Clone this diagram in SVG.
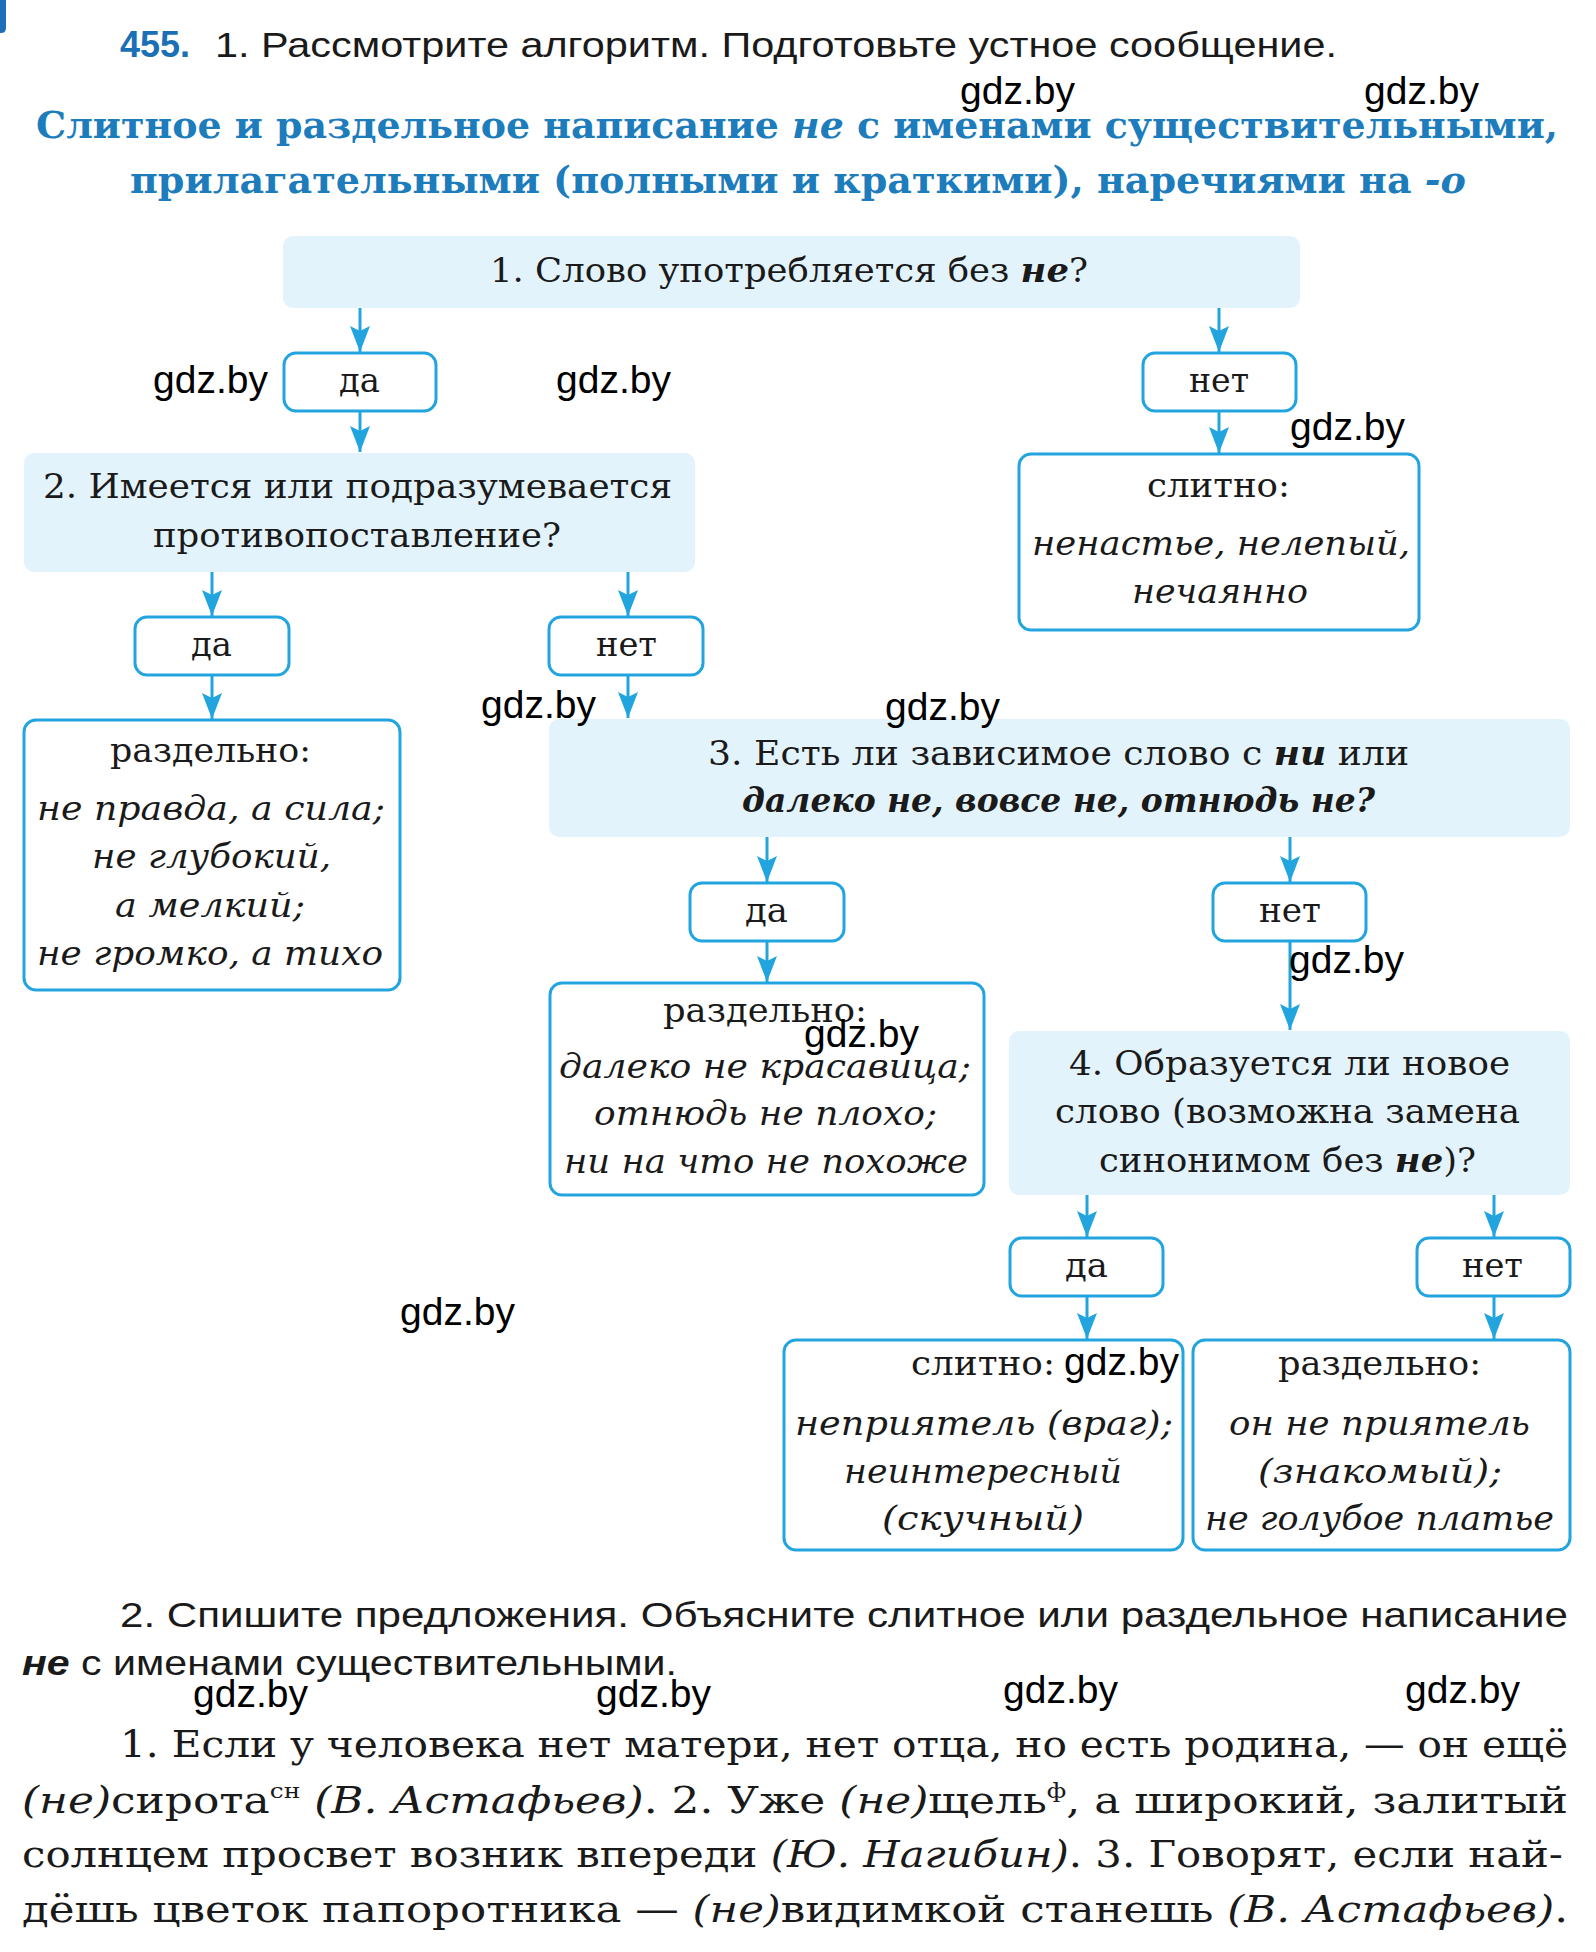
<svg xmlns="http://www.w3.org/2000/svg" width="1596" height="1952" viewBox="0 0 1596 1952">
<style>
.bg{fill:#ffffff}
.q{fill:#e3f3fb}
.b{fill:#ffffff;stroke:#22a5df;stroke-width:3}
.c{stroke:#22a5df;stroke-width:3;fill:none}
.t{font-family:"DejaVu Serif","Liberation Serif",serif;font-size:33px;fill:#1a1a1a}
.i{font-style:italic}
.bi{font-style:italic;font-weight:bold}
.h{font-family:"DejaVu Serif","Liberation Serif",serif;font-size:37px;font-weight:bold;fill:#1d7cbb}
.s{font-family:"Liberation Sans",Arial,sans-serif;font-size:35px;fill:#1a1a1a}
.p{font-family:"DejaVu Serif","Liberation Serif",serif;font-size:37px;fill:#1a1a1a}
.w{font-family:"Liberation Sans",Arial,sans-serif;font-size:39px;fill:#000000}
</style>
<defs>
<marker id="ah" markerUnits="userSpaceOnUse" markerWidth="28" markerHeight="22" refX="26" refY="10" orient="auto" viewBox="0 0 28 22">
<path d="M0,0 L26,10 L0,20 L5,10 z" fill="#22a5df"/>
</marker>
</defs>
<rect class="bg" x="0" y="0" width="1596" height="1952"/>
<path d="M0,0 H6 V28 Q6,33 1,33 H0 z" fill="#1e6fb8"/>

<g id="header">
<text x="120" y="57" font-family="Liberation Sans,Arial,sans-serif" font-size="36" font-weight="bold" fill="#1a6fb5">455.</text>
<text class="s" x="215" y="57" textLength="1122" lengthAdjust="spacingAndGlyphs">1. Рассмотрите алгоритм. Подготовьте устное сообщение.</text>
<text class="h" x="36" y="138" textLength="1522" lengthAdjust="spacingAndGlyphs">Слитное и раздельное написание <tspan font-style="italic">не</tspan> с именами существительными,</text>
<text class="h" x="130" y="193" textLength="1336" lengthAdjust="spacingAndGlyphs">прилагательными (полными и краткими), наречиями на <tspan font-style="italic">-о</tspan></text>
</g>

<g id="connectors">
<line class="c" x1="360" y1="308" x2="360" y2="352" marker-end="url(#ah)"/>
<line class="c" x1="1219" y1="308" x2="1219" y2="352" marker-end="url(#ah)"/>
<line class="c" x1="360" y1="411" x2="360" y2="452" marker-end="url(#ah)"/>
<line class="c" x1="1219" y1="411" x2="1219" y2="453" marker-end="url(#ah)"/>
<line class="c" x1="212" y1="572" x2="212" y2="616" marker-end="url(#ah)"/>
<line class="c" x1="628" y1="572" x2="628" y2="616" marker-end="url(#ah)"/>
<line class="c" x1="212" y1="675" x2="212" y2="719" marker-end="url(#ah)"/>
<line class="c" x1="628" y1="675" x2="628" y2="718" marker-end="url(#ah)"/>
<line class="c" x1="767" y1="837" x2="767" y2="882" marker-end="url(#ah)"/>
<line class="c" x1="1290" y1="837" x2="1290" y2="882" marker-end="url(#ah)"/>
<line class="c" x1="767" y1="941" x2="767" y2="982" marker-end="url(#ah)"/>
<line class="c" x1="1290" y1="941" x2="1290" y2="1030" marker-end="url(#ah)"/>
<line class="c" x1="1087" y1="1195" x2="1087" y2="1237" marker-end="url(#ah)"/>
<line class="c" x1="1494" y1="1195" x2="1494" y2="1237" marker-end="url(#ah)"/>
<line class="c" x1="1087" y1="1296" x2="1087" y2="1339" marker-end="url(#ah)"/>
<line class="c" x1="1494" y1="1296" x2="1494" y2="1339" marker-end="url(#ah)"/>
</g>

<g id="q1">
<rect class="q" x="283" y="236" width="1017" height="72" rx="10"/>
<text class="t" x="490" y="282" textLength="598" lengthAdjust="spacingAndGlyphs">1. Слово употребляется без <tspan class="bi">не</tspan>?</text>
</g>
<g id="yes1">
<rect class="b" x="284" y="353" width="152" height="58" rx="12"/>
<text class="t" x="339" y="392" textLength="41" lengthAdjust="spacingAndGlyphs">да</text>
</g>
<g id="no1">
<rect class="b" x="1143" y="353" width="153" height="58" rx="12"/>
<text class="t" x="1189" y="392" textLength="60" lengthAdjust="spacingAndGlyphs">нет</text>
</g>
<g id="together1">
<rect class="b" x="1019" y="454" width="400" height="176" rx="12"/>
<text class="t" x="1147" y="497" textLength="143" lengthAdjust="spacingAndGlyphs">слитно:</text>
<text class="t i" x="1032" y="555" textLength="378" lengthAdjust="spacingAndGlyphs">ненастье, нелепый,</text>
<text class="t i" x="1132" y="603" textLength="176" lengthAdjust="spacingAndGlyphs">нечаянно</text>
</g>
<g id="q2">
<rect class="q" x="24" y="453" width="671" height="119" rx="10"/>
<text class="t" x="43" y="498" textLength="629" lengthAdjust="spacingAndGlyphs">2. Имеется или подразумевается</text>
<text class="t" x="153" y="547" textLength="408" lengthAdjust="spacingAndGlyphs">противопоставление?</text>
</g>
<g id="yes2">
<rect class="b" x="135" y="617" width="154" height="58" rx="12"/>
<text class="t" x="191" y="656" textLength="41" lengthAdjust="spacingAndGlyphs">да</text>
</g>
<g id="no2">
<rect class="b" x="549" y="617" width="154" height="58" rx="12"/>
<text class="t" x="596" y="656" textLength="61" lengthAdjust="spacingAndGlyphs">нет</text>
</g>
<g id="separate1">
<rect class="b" x="24" y="720" width="376" height="270" rx="12"/>
<text class="t" x="110" y="762" textLength="201" lengthAdjust="spacingAndGlyphs">раздельно:</text>
<text class="t i" x="37" y="820" textLength="348" lengthAdjust="spacingAndGlyphs">не правда, а сила;</text>
<text class="t i" x="92" y="868" textLength="239" lengthAdjust="spacingAndGlyphs">не глубокий,</text>
<text class="t i" x="115" y="917" textLength="190" lengthAdjust="spacingAndGlyphs">а мелкий;</text>
<text class="t i" x="37" y="965" textLength="346" lengthAdjust="spacingAndGlyphs">не громко, а тихо</text>
</g>
<g id="q3">
<rect class="q" x="549" y="719" width="1021" height="118" rx="10"/>
<text class="t" x="708" y="765" textLength="701" lengthAdjust="spacingAndGlyphs">3. Есть ли зависимое слово с <tspan class="bi">ни</tspan> или</text>
<text class="t bi" x="742" y="812" textLength="633" lengthAdjust="spacingAndGlyphs">далеко не, вовсе не, отнюдь не?</text>
</g>
<g id="yes3">
<rect class="b" x="690" y="883" width="154" height="58" rx="12"/>
<text class="t" x="745" y="922" textLength="43" lengthAdjust="spacingAndGlyphs">да</text>
</g>
<g id="no3">
<rect class="b" x="1213" y="883" width="153" height="58" rx="12"/>
<text class="t" x="1259" y="922" textLength="62" lengthAdjust="spacingAndGlyphs">нет</text>
</g>
<g id="separate2">
<rect class="b" x="550" y="983" width="434" height="212" rx="12"/>
<text class="t" x="663" y="1022" textLength="204" lengthAdjust="spacingAndGlyphs">раздельно:</text>
<text class="t i" x="559" y="1078" textLength="412" lengthAdjust="spacingAndGlyphs">далеко не красавица;</text>
<text class="t i" x="594" y="1125" textLength="343" lengthAdjust="spacingAndGlyphs">отнюдь не плохо;</text>
<text class="t i" x="564" y="1173" textLength="404" lengthAdjust="spacingAndGlyphs">ни на что не похоже</text>
</g>
<g id="q4">
<rect class="q" x="1009" y="1031" width="561" height="164" rx="10"/>
<text class="t" x="1069" y="1075" textLength="441" lengthAdjust="spacingAndGlyphs">4. Образуется ли новое</text>
<text class="t" x="1055" y="1123" textLength="465" lengthAdjust="spacingAndGlyphs">слово (возможна замена</text>
<text class="t" x="1099" y="1172" textLength="377" lengthAdjust="spacingAndGlyphs">синонимом без <tspan class="bi">не</tspan>)?</text>
</g>
<g id="yes4">
<rect class="b" x="1010" y="1238" width="153" height="58" rx="12"/>
<text class="t" x="1065" y="1277" textLength="43" lengthAdjust="spacingAndGlyphs">да</text>
</g>
<g id="no4">
<rect class="b" x="1417" y="1238" width="153" height="58" rx="12"/>
<text class="t" x="1462" y="1277" textLength="61" lengthAdjust="spacingAndGlyphs">нет</text>
</g>
<g id="together2">
<rect class="b" x="784" y="1340" width="399" height="210" rx="12"/>
<text class="t" x="911" y="1375" textLength="144" lengthAdjust="spacingAndGlyphs">слитно:</text>
<text class="t i" x="795" y="1435" textLength="378" lengthAdjust="spacingAndGlyphs">неприятель (враг);</text>
<text class="t i" x="844" y="1483" textLength="278" lengthAdjust="spacingAndGlyphs">неинтересный</text>
<text class="t i" x="882" y="1530" textLength="202" lengthAdjust="spacingAndGlyphs">(скучный)</text>
</g>
<g id="separate3">
<rect class="b" x="1193" y="1340" width="377" height="210" rx="12"/>
<text class="t" x="1278" y="1375" textLength="203" lengthAdjust="spacingAndGlyphs">раздельно:</text>
<text class="t i" x="1229" y="1435" textLength="301" lengthAdjust="spacingAndGlyphs">он не приятель</text>
<text class="t i" x="1258" y="1483" textLength="244" lengthAdjust="spacingAndGlyphs">(знакомый);</text>
<text class="t i" x="1205" y="1530" textLength="349" lengthAdjust="spacingAndGlyphs">не голубое платье</text>
</g>

<g id="task2">
<text class="s" x="120" y="1627" textLength="1448" lengthAdjust="spacingAndGlyphs">2. Спишите предложения. Объясните слитное или раздельное написание</text>
<text class="s" x="22" y="1675" textLength="655" lengthAdjust="spacingAndGlyphs"><tspan font-weight="bold" font-style="italic">не</tspan> с именами существительными.</text>
<text class="p" x="120" y="1757" textLength="1448" lengthAdjust="spacingAndGlyphs">1. Если у человека нет матери, нет отца, но есть родина, — он ещё</text>
<text class="p" x="22" y="1813" textLength="1546" lengthAdjust="spacingAndGlyphs"><tspan class="i">(не)</tspan>сирота<tspan font-size="21" dy="-15">сн</tspan><tspan dy="15"> </tspan><tspan class="i">(В. Астафьев)</tspan>. 2. Уже <tspan class="i">(не)</tspan>щель<tspan font-size="21" dy="-15">ф</tspan><tspan dy="15">, а широкий, залитый</tspan></text>
<text class="p" x="22" y="1867" textLength="1541" lengthAdjust="spacingAndGlyphs">солнцем просвет возник впереди <tspan class="i">(Ю. Нагибин)</tspan>. 3. Говорят, если най-</text>
<text class="p" x="22" y="1922" textLength="1546" lengthAdjust="spacingAndGlyphs">дёшь цветок папоротника — <tspan class="i">(не)</tspan>видимкой станешь <tspan class="i">(В. Астафьев)</tspan>.</text>
</g>

<g id="watermarks">
<text class="w" x="960" y="104">gdz.by</text>
<text class="w" x="1364" y="104">gdz.by</text>
<text class="w" x="153" y="393">gdz.by</text>
<text class="w" x="556" y="393">gdz.by</text>
<text class="w" x="1290" y="440">gdz.by</text>
<text class="w" x="481" y="718">gdz.by</text>
<text class="w" x="885" y="720">gdz.by</text>
<text class="w" x="1289" y="973">gdz.by</text>
<text class="w" x="804" y="1047">gdz.by</text>
<text class="w" x="400" y="1325">gdz.by</text>
<text class="w" x="1064" y="1375">gdz.by</text>
<text class="w" x="193" y="1707">gdz.by</text>
<text class="w" x="596" y="1707">gdz.by</text>
<text class="w" x="1003" y="1703">gdz.by</text>
<text class="w" x="1405" y="1703">gdz.by</text>
</g>
</svg>
